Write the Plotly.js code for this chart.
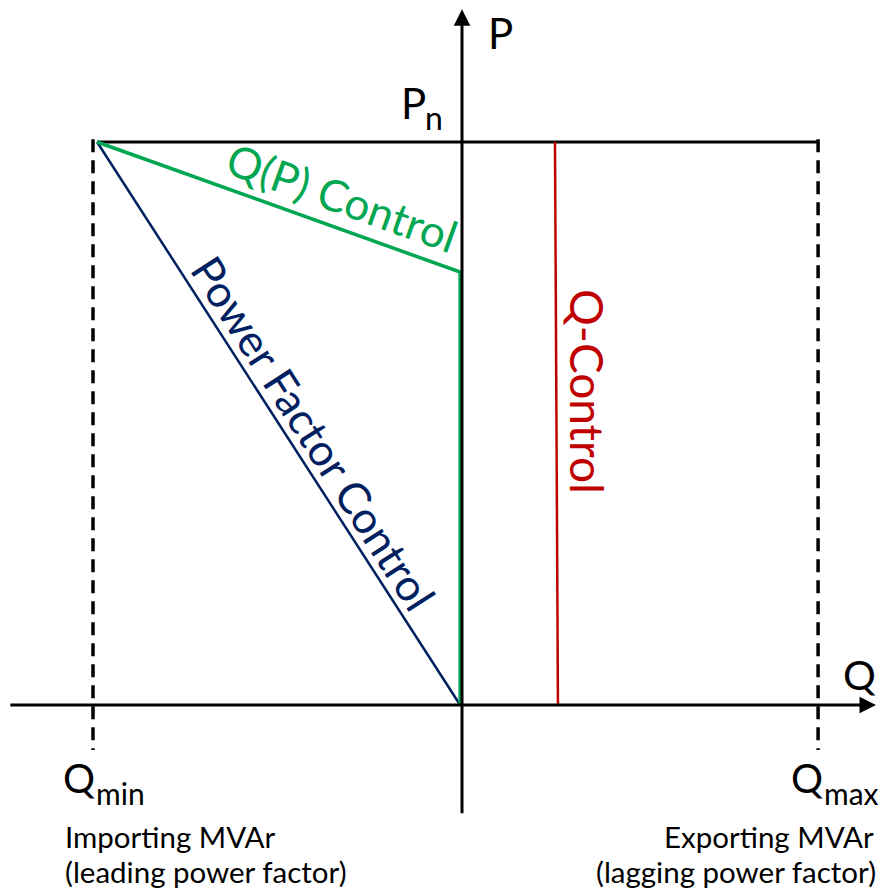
<!DOCTYPE html>
<html>
<head>
<meta charset="utf-8">
<script src="https://cdn.plot.ly/plotly-3.0.1.min.js"></script>
<style>
html,body{margin:0;padding:0;background:#fff;}
#chart{width:881px;height:890px;}
</style>
</head>
<body>
<div id="chart"></div>
<script>
// ---- data (Q in units of |Qmin|, P in units of Pn) ----
const Q_MIN = -1;
const Q_MAX = 0.965;
const P_N = 1;
const limitQ = [-0.989, 0.965];          // Pn limit line
const limitP = [1, 1];
const boundP = [1.005, -0.08];           // extent of the dashed Qmin / Qmax lines
const qpQ = [-0.989, -0.005, -0.005];    // Q(P) control
const qpP = [1, 0.769, 0];
const pfQ = [-0.989, -0.005];            // power factor control
const pfP = [1, 0];
const qcQ = [0.252, 0.260];              // Q-control
const qcP = [1, 0];
const axisQ = [-1.228, 1.122];           // Q axis extent (tail, tip)
const axisP = [-0.195, 1.236];           // P axis extent (tail, tip)

// ---- pixel helpers for label placement ----
const W = 881, H = 890;
const X0 = 462, PXQ = 369;   // pixel of Q=0, pixels per unit Q
const Y0 = 705, PXP = 563;   // pixel of P=0, pixels per unit P
const xr = [(0 - X0) / PXQ, (W - X0) / PXQ];
const yr = [(Y0 - H) / PXP, (Y0 - 0) / PXP];
const fx = px => (px - X0) / PXQ;
const fy = py => (Y0 - py) / PXP;

const FONT = 'Lato, "Open Sans", sans-serif';
const BLACK = '#000000', GREEN = '#00A651', NAVY = '#002060', RED = '#C00000';

const traces = [
  {x: limitQ, y: limitP, mode: 'lines', line: {color: BLACK, width: 3}},
  {x: [Q_MIN, Q_MIN], y: boundP, mode: 'lines', line: {color: BLACK, width: 3.5, dash: '13px,8px'}},
  {x: [Q_MAX, Q_MAX], y: boundP, mode: 'lines', line: {color: BLACK, width: 3.5, dash: '13px,8px'}},
  {x: pfQ, y: pfP, mode: 'lines', line: {color: NAVY, width: 2.5}},
  {x: qcQ, y: qcP, mode: 'lines', line: {color: RED, width: 2.5}},
  {x: qpQ, y: qpP, mode: 'lines', line: {color: GREEN, width: 3.5}}
];

function lbl(text, px, py, size, color, xanchor, extra) {
  return Object.assign({
    x: fx(px), y: fy(py), xref: 'x', yref: 'y', text: text, showarrow: false,
    xanchor: xanchor || 'left', yanchor: 'middle',
    font: {family: FONT, size: size, color: color || BLACK}
  }, extra || {});
}

const annotations = [
  // axes with arrowheads
  {x: axisQ[1], y: 0, ax: axisQ[0], ay: 0, xref: 'x', yref: 'y', axref: 'x', ayref: 'y',
   showarrow: true, arrowhead: 2, arrowsize: 1.1, arrowwidth: 3, arrowcolor: BLACK, standoff: 0, text: ''},
  {x: 0, y: axisP[1], ax: 0, ay: axisP[0], xref: 'x', yref: 'y', axref: 'x', ayref: 'y',
   showarrow: true, arrowhead: 2, arrowsize: 1.1, arrowwidth: 3, arrowcolor: BLACK, standoff: 0, text: ''},
  // axis labels
  lbl('P', 486, 33, 42),
  lbl('P', 399, 103, 42),
  lbl('n', 423, 117, 32),
  lbl('Q', 841, 674, 41),
  lbl('Q', 61, 778, 40),
  lbl('min', 94, 793, 30),
  lbl('Q', 789, 778, 40),
  lbl('max', 822, 793, 30),
  lbl('Importing MVAr', 63, 836, 29.5),
  lbl('(leading power factor)', 63, 871, 29.5),
  lbl('Exporting MVAr', 876, 836, 29.5, BLACK, 'right'),
  lbl('(lagging power factor)', 878, 871, 29.5, BLACK, 'right'),
  // curve labels
  lbl('Q(P) Control', 342, 197, 44, GREEN, 'center', {textangle: 19.7}),
  lbl('Power Factor Control', 314, 433, 44, NAVY, 'center', {textangle: 57.3}),
  lbl('Q-Control', 588, 391, 46, RED, 'center', {textangle: 90})
];

const layout = {
  width: W, height: H,
  margin: {l: 0, r: 0, t: 0, b: 0, pad: 0},
  paper_bgcolor: '#ffffff', plot_bgcolor: '#ffffff',
  showlegend: false,
  xaxis: {range: xr, visible: false, fixedrange: true},
  yaxis: {range: yr, visible: false, fixedrange: true},
  annotations: annotations
};

Plotly.newPlot('chart', traces, layout, {staticPlot: true, displayModeBar: false});
</script>
</body>
</html>
